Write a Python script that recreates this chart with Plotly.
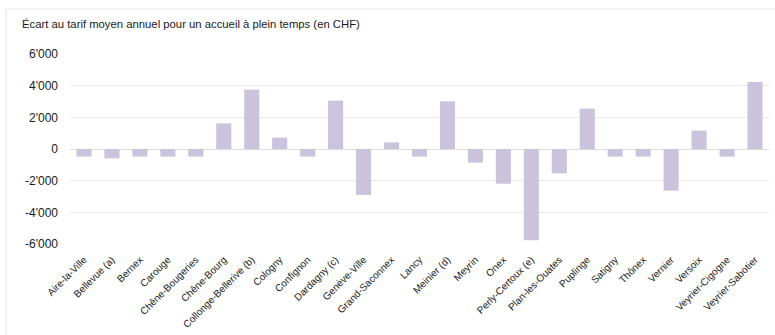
import plotly.graph_objects as go

communes = [
    "Aire-la-Ville", "Bellevue (a)", "Bernex", "Carouge", "Chêne-Bougeries",
    "Chêne-Bourg", "Collonge-Bellerive (b)", "Cologny", "Confignon", "Dardagny (c)",
    "Genève-Ville", "Grand-Saconnex", "Lancy", "Meinier (d)", "Meyrin", "Onex",
    "Perly-Certoux (e)", "Plan-les-Ouates", "Puplinge", "Satigny", "Thônex",
    "Vernier", "Versoix", "Veyrier-Cigogne", "Veyrier-Sabotier",
]
ecart_chf = [
    -480, -590, -480, -480, -480,
    1620, 3750, 720, -480, 3050,
    -2900, 420, -480, 3010, -860, -2190,
    -5770, -1540, 2550, -480, -480,
    -2630, 1160, -480, 4230,
]
y_tick_vals = [-6000, -4000, -2000, 0, 2000, 4000, 6000]
y_tick_text = ["-6'000", "-4'000", "-2'000", "0", "2'000", "4'000", "6'000"]

title_text = "Écart au tarif moyen annuel pour un accueil à plein temps (en CHF)"

fig = go.Figure(
    go.Bar(
        x=communes,
        y=ecart_chf,
        marker=dict(color="#cbc3dc", line=dict(width=0)),
        hoverinfo="x+y",
    )
)

fig.update_layout(
    width=775,
    height=335,
    margin=dict(l=70, r=6, t=54, b=91),
    paper_bgcolor="white",
    plot_bgcolor="white",
    bargap=0.46,
    showlegend=False,
    font=dict(family="Liberation Sans, Arial, sans-serif", color="#1a1a1a"),
    annotations=[
        dict(
            text=title_text, xref="paper", yref="paper",
            x=-70 / 699, y=1, xshift=20, yshift=30,
            xanchor="left", yanchor="middle", showarrow=False,
            font=dict(size=11.3, color="#1a1a1a"),
        )
    ],
    shapes=[
        dict(type="line", xref="paper", yref="paper",
             x0=-64 / 699, x1=1 + 6 / 699, y0=1 + 45 / 190, y1=1 + 45 / 190,
             line=dict(color="#e6e6e6", width=1)),
        dict(type="line", xref="paper", yref="paper",
             x0=-64 / 699, x1=-64 / 699, y0=1 + 45 / 190, y1=-91 / 190,
             line=dict(color="#e6e6e6", width=1)),
    ],
)

fig.update_xaxes(
    tickangle=-45,
    tickfont=dict(size=10, color="#1a1a1a"),
    showgrid=False,
    showline=False,
    ticks="",
    ticklabelstandoff=7,
)
fig.update_yaxes(
    range=[-6000, 6000],
    tickvals=y_tick_vals,
    ticktext=y_tick_text,
    tickfont=dict(size=12, color="#1a1a1a"),
    showgrid=True,
    gridcolor="#e8e8e8",
    gridwidth=1,
    zeroline=True,
    zerolinecolor="#dcdcdc",
    zerolinewidth=1,
    ticks="",
    ticklabelstandoff=11,
)

fig.write_html("out.html")
